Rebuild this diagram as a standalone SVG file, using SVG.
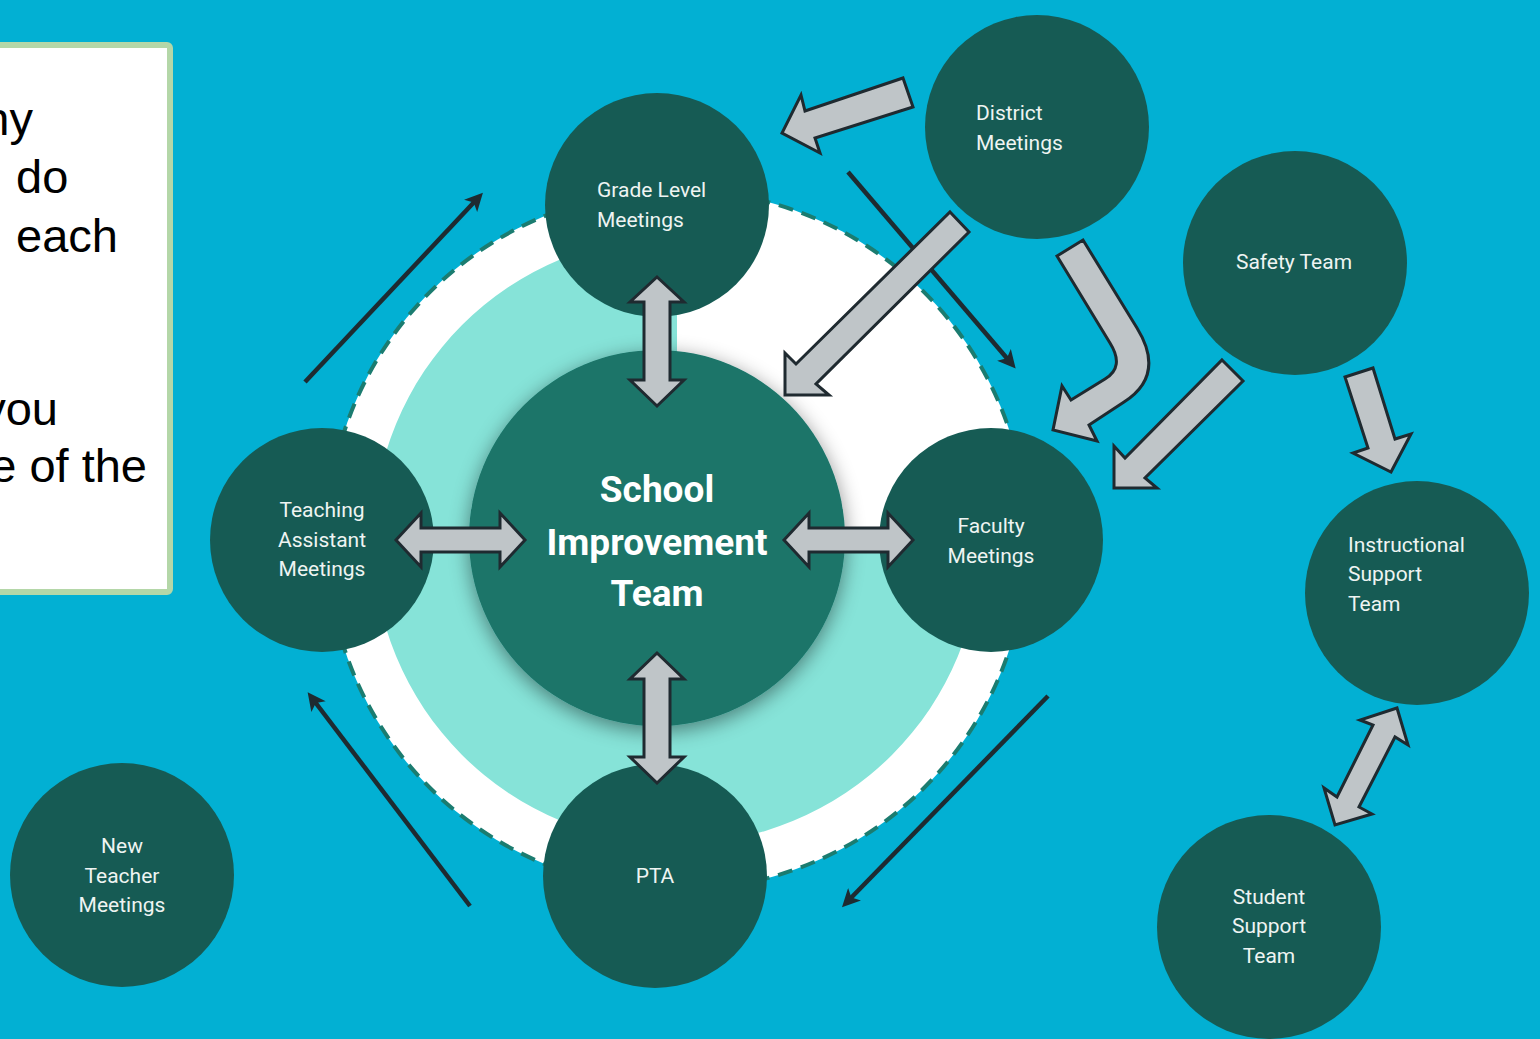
<svg xmlns="http://www.w3.org/2000/svg" width="1540" height="1039" viewBox="0 0 1540 1039">
<defs>
<style>
.node{fill:#165B54}
.lbl{font-family:Roboto,"Noto Sans",sans-serif;font-size:21px;fill:#EEF4F2}
.mid{text-anchor:middle}
.box{font-family:"Liberation Sans",Arial,sans-serif;font-size:47px;fill:#000}
.blk{fill:#BFC5C8;stroke:#1F2A30;stroke-width:3;stroke-linejoin:miter}
.thin{fill:none;stroke:#1E2B31;stroke-width:4.5;marker-end:url(#ah)}
</style>
<marker id="ah" viewBox="0 0 10 10" refX="6" refY="5" markerWidth="4.2" markerHeight="4" orient="auto" markerUnits="strokeWidth">
<path d="M0,0 L10,5 L0,10 L2.5,5 Z" fill="#1E2B31"/>
</marker>
<filter id="sh" x="-30%" y="-30%" width="160%" height="160%">
<feDropShadow dx="0" dy="5" stdDeviation="10" flood-color="#000" flood-opacity="0.45"/>
</filter>
</defs>
<rect width="1540" height="1039" fill="#02B0D3"/>
<g id="textbox">
<rect x="-10" y="45" width="180" height="547" rx="3" fill="#FFFFFF" stroke="#B4D7A8" stroke-width="6"/>
<text class="box" x="33" y="135" text-anchor="end">ny</text>
<text class="box" x="16" y="193">do</text>
<text class="box" x="16" y="252">each</text>
<text class="box" x="58" y="425" text-anchor="end">you</text>
<text class="box" x="147" y="482" text-anchor="end">e of the</text>
</g>
<g id="rings">
<circle cx="677" cy="540" r="350" fill="#FFFFFF" stroke="#1B7C70" stroke-width="4" stroke-dasharray="15 9"/>
<path d="M677,540 L677,236 A304,304 0 1 0 981,540 Z" fill="#86E3D8"/>
</g>
<g id="connectors">
<line class="thin" x1="305" y1="382" x2="478" y2="198"/>
<line class="thin" x1="470" y1="906" x2="312" y2="698"/>
<line class="thin" x1="1048" y1="696" x2="847" y2="902"/>
<line class="thin" x1="848" y1="172" x2="1011" y2="363"/>
</g>
<g id="n-center"><circle cx="657" cy="538" r="188" fill="#1B7469" filter="url(#sh)"/>
<text x="657" y="502" text-anchor="middle" style="font-family:Roboto,'Noto Sans',sans-serif;font-weight:bold;font-size:37px;fill:#FFFFFF">School</text>
<text x="657" y="555" text-anchor="middle" style="font-family:Roboto,'Noto Sans',sans-serif;font-weight:bold;font-size:37px;fill:#FFFFFF">Improvement</text>
<text x="657" y="606" text-anchor="middle" style="font-family:Roboto,'Noto Sans',sans-serif;font-weight:bold;font-size:37px;fill:#FFFFFF">Team</text>
</g>
<g id="n-grade"><circle class="node" cx="657" cy="205" r="112"/>
<text class="lbl" x="597" y="197">Grade Level</text><text class="lbl" x="597" y="227">Meetings</text></g>
<g id="n-district"><circle class="node" cx="1037" cy="127" r="112"/>
<text class="lbl" x="976" y="120">District</text><text class="lbl" x="976" y="150">Meetings</text></g>
<g id="n-safety"><circle class="node" cx="1295" cy="263" r="112"/>
<text class="lbl mid" x="1294" y="269">Safety Team</text></g>
<g id="n-instr"><circle class="node" cx="1417" cy="593" r="112"/>
<text class="lbl" x="1348" y="552">Instructional</text><text class="lbl" x="1348" y="581">Support</text><text class="lbl" x="1348" y="611">Team</text></g>
<g id="n-student"><circle class="node" cx="1269" cy="927" r="112"/>
<text class="lbl mid" x="1269" y="904">Student</text><text class="lbl mid" x="1269" y="933">Support</text><text class="lbl mid" x="1269" y="963">Team</text></g>
<g id="n-faculty"><circle class="node" cx="991" cy="540" r="112"/>
<text class="lbl mid" x="991" y="533">Faculty</text><text class="lbl mid" x="991" y="563">Meetings</text></g>
<g id="n-ta"><circle class="node" cx="322" cy="540" r="112"/>
<text class="lbl mid" x="322" y="517">Teaching</text><text class="lbl mid" x="322" y="547">Assistant</text><text class="lbl mid" x="322" y="576">Meetings</text></g>
<g id="n-pta"><circle class="node" cx="655" cy="876" r="112"/>
<text class="lbl mid" x="655" y="883">PTA</text></g>
<g id="n-newteacher"><circle class="node" cx="122" cy="875" r="112"/>
<text class="lbl mid" x="122" y="853">New</text><text class="lbl mid" x="122" y="883">Teacher</text><text class="lbl mid" x="122" y="912">Meetings</text></g>
<g id="block-arrows">
<polygon class="blk" points="657,277 684,302 670,302 670,380 684,380 657,406 630,380 644,380 644,302 630,302"/>
<polygon class="blk" points="657,653 684,679 670,679 670,757 684,757 657,783 630,757 644,757 644,679 630,679"/>
<polygon class="blk" points="396,540 421,513 421,528 500,528 500,513 525,540 500,567 500,552 421,552 421,567"/>
<polygon class="blk" points="784,540 809,513 809,528 888,528 888,513 913,540 888,567 888,552 809,552 809,567"/>
<polygon class="blk" points="903,78 913,107 815,138 820,153 782,133 801,95 805,111"/>
<polygon class="blk" points="950,212 969,232 816,384 829,395 785,395 785,353 796,364"/>
<polygon class="blk" points="1222,360 1243,381 1145,478 1157,488 1114,488 1114,446 1125,458"/>
<polygon class="blk" points="1345,377 1373,368 1395,439 1411,434 1391,472 1353,453 1368,448"/>
<polygon class="blk" points="1397,708 1408,745 1395,737 1359,807 1372,814 1335,825 1324,788 1337,797 1373,725 1360,720"/>
<path class="blk" d="M1057,256 L1083,240 L1137,328 Q1166,375 1124,402 L1089,425 L1097,441 L1053,430 L1062,386 L1071,400 L1105,379 Q1125,367 1110,343 Z"/>
</g>
</svg>
